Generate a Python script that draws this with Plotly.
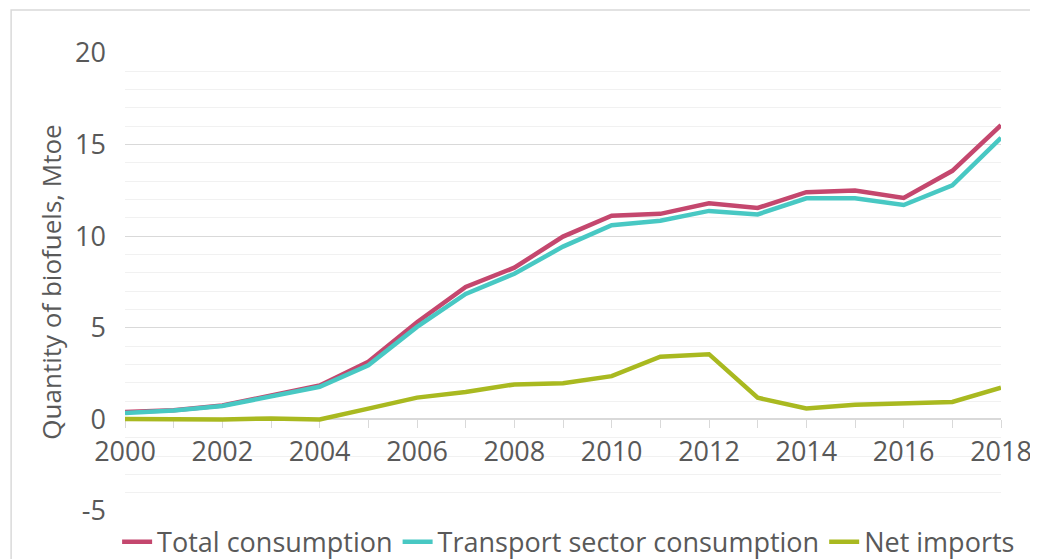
import plotly.graph_objects as go

# Years on the x axis
years = list(range(2000, 2019))

# Biofuel quantities, Mtoe
total_consumption = [0.40, 0.50, 0.76, 1.33, 1.85, 3.15, 5.30, 7.23, 8.28, 9.98,
                     11.12, 11.22, 11.80, 11.54, 12.40, 12.49, 12.09, 13.57, 16.06]
transport_consumption = [0.35, 0.48, 0.73, 1.28, 1.78, 2.95, 5.05, 6.85, 7.95, 9.43,
                         10.60, 10.84, 11.38, 11.19, 12.07, 12.07, 11.70, 12.77, 15.37]
net_imports = [0.02, 0.00, 0.00, 0.05, 0.00, 0.59, 1.19, 1.50, 1.91, 1.98,
               2.36, 3.42, 3.56, 1.18, 0.60, 0.80, 0.89, 0.95, 1.73]

# y tick labels (plain hyphen for the minus sign, as in the source)
y_ticks = [-5, 0, 5, 10, 15, 20]
y_tick_labels = ['-5', '0', '5', '10', '15', '20']

series_names = ['Total consumption', 'Transport sector consumption', 'Net imports']
series_colors = ['#C4476E', '#48C8C3', '#A9B920']

font_family = 'Open Sans, sans-serif'
text_color = '#595959'

fig = go.Figure()
for name, values, color in zip(series_names,
                               [total_consumption, transport_consumption, net_imports],
                               series_colors):
    fig.add_trace(go.Scatter(x=years, y=values, name=name, mode='lines',
                             line=dict(color=color, width=4.5)))

# outer frame around the whole chart
fig.add_shape(type='rect', xref='paper', yref='paper',
              x0=-0.130, x1=1.04, y0=-0.3, y1=1.094,
              line=dict(color='#d9d9d9', width=1.5), layer='below')

# the page body adds an 8px margin, so the figure is offset by 8px
fig.update_layout(
    width=1030, height=551,
    margin=dict(l=117, r=37, t=45, b=48, autoexpand=False),
    paper_bgcolor='white', plot_bgcolor='white',
    font=dict(family=font_family, color=text_color, size=24),
    showlegend=True,
    legend=dict(orientation='h', x=-0.009, xanchor='left', y=-0.068, yanchor='middle',
                font=dict(size=27, color=text_color), itemwidth=30,
                bgcolor='rgba(0,0,0,0)'),
    xaxis=dict(range=[2000, 2018], tick0=2000, dtick=2,
               anchor='free', position=0.2, automargin=False,
               showgrid=False, zeroline=False, layer='below traces',
               showline=True, linecolor='#d9d9d9', linewidth=1.5,
               ticks='outside', ticklen=8, tickcolor='#d9d9d9',
               tickfont=dict(size=27, color=text_color),
               minor=dict(dtick=1, ticks='outside', ticklen=8, tickcolor='#d9d9d9')),
    yaxis=dict(range=[-5, 20], tickmode='array', tickvals=y_ticks, ticktext=y_tick_labels,
               automargin=False, layer='below traces',
               showgrid=True, gridcolor='#d9d9d9', gridwidth=1.2,
               zeroline=False, showline=False,
               tickfont=dict(size=27, color=text_color),
               ticklabelstandoff=18,
               title=dict(text='Quantity of biofuels, Mtoe', standoff=6,
                          font=dict(size=26, color=text_color)),
               minor=dict(dtick=1, showgrid=True, gridcolor='#f1f1f1', gridwidth=1)),
)

fig.write_html('out.html')
